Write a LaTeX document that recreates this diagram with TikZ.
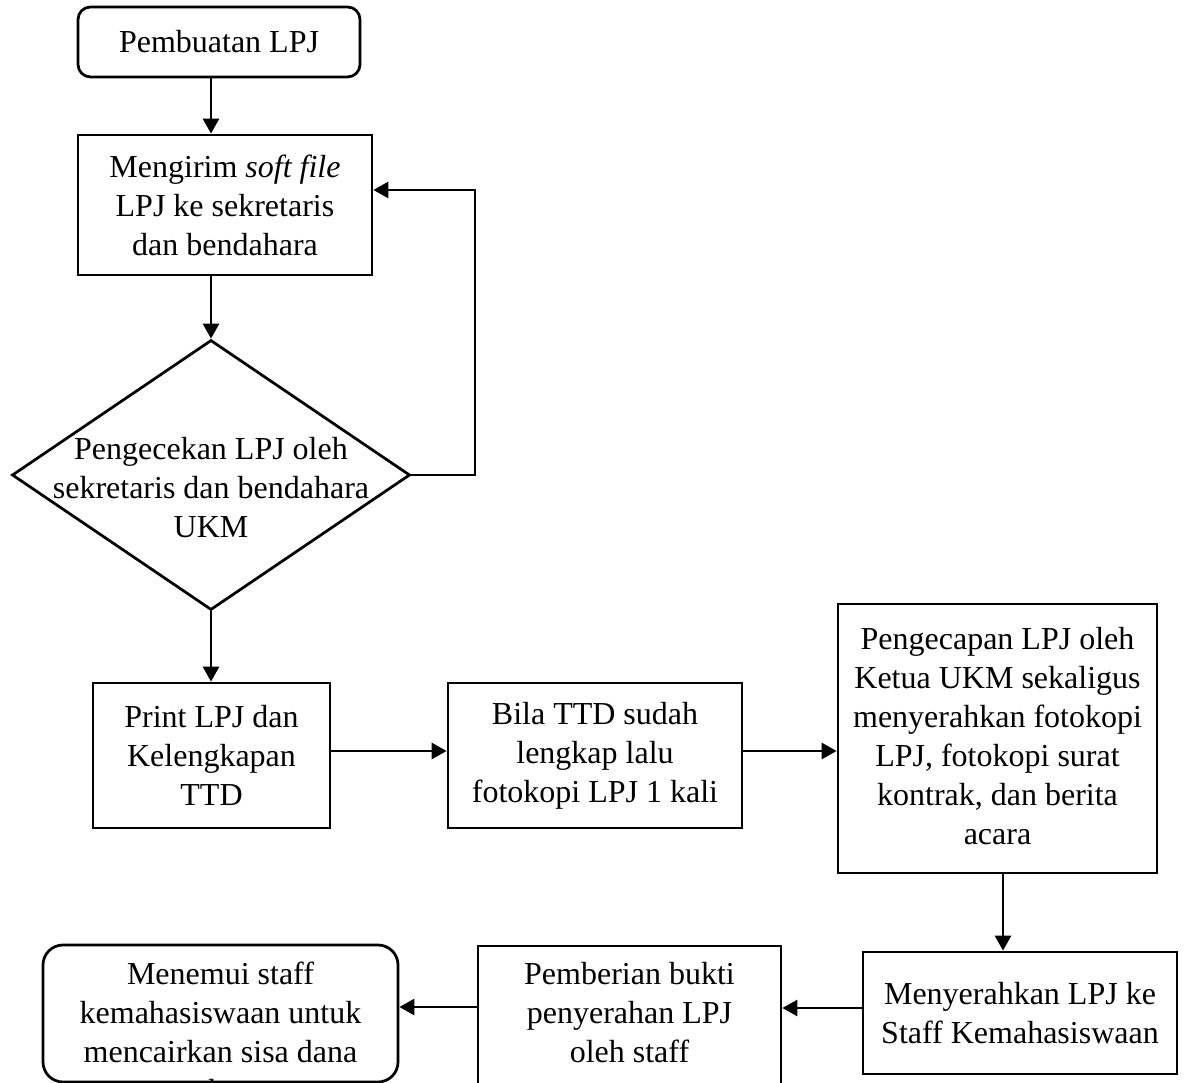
\documentclass[tikz,border=0pt]{standalone}
\usepackage{fontspec}
\setmainfont{Liberation Serif}
\usetikzlibrary{shapes.geometric,arrows.meta}
\begin{document}
\begin{tikzpicture}[x=0.4pt,y=-0.4pt,
  box/.style={draw,line width=1.1pt,inner sep=0pt,align=center,
    font=\fontsize{12.8}{15.6}\selectfont},
  rbox/.style={box,rounded corners=5pt},
  txt/.style={align=center,inner sep=0pt,font=\fontsize{12.8}{15.6}\selectfont},
  arr/.style={line width=1.1pt,-{Triangle[length=6pt,width=6.4pt]}}]
\useasboundingbox (0,0) rectangle (1184,1083);
\clip (0,0) rectangle (1184,1083);

% process steps
\node[rbox,minimum width=112.8pt,minimum height=28pt] (buat) at (219,42) {Pembuatan LPJ};
\node[box,minimum width=117.6pt,minimum height=56pt] (kirim) at (225,205)
  {Mengirim \textit{soft file}\\LPJ ke sekretaris\\dan bendahara};
\node[draw,line width=1.1pt,diamond,inner sep=0pt,minimum width=159.2pt,minimum height=108pt] (cek) at (211,475) {};
\node[txt] (cektxt) at (211,488) {Pengecekan LPJ oleh\\sekretaris dan bendahara\\UKM};
\node[box,minimum width=94.8pt,minimum height=58pt] (print) at (211.5,755.5)
  {Print LPJ dan\\Kelengkapan\\TTD};
\node[box,minimum width=117.6pt,minimum height=58pt] (bila) at (595,755.5)
  {Bila TTD sudah\\lengkap lalu\\fotokopi LPJ 1 kali};
\node[box,minimum width=127.6pt,minimum height=107.6pt] (cap) at (997.5,738.5) {};
\node[txt] (captxt) at (997.5,736)
  {Pengecapan LPJ oleh\\Ketua UKM sekaligus\\menyerahkan fotokopi\\LPJ, fotokopi surat\\kontrak, dan berita\\acara};
\node[box,minimum width=125.6pt,minimum height=48.8pt] (serah) at (1020,1013)
  {Menyerahkan LPJ ke\\Staff Kemahasiswaan};
\node[box,minimum width=121.2pt,minimum height=65.6pt] (bukti) at (629.5,1028) {};
\node[txt] (buktitxt) at (629.5,1013) {Pemberian bukti\\penyerahan LPJ\\oleh staff};
\node[box,rounded corners=8pt,minimum width=142pt,minimum height=54.8pt] (temui) at (220.5,1013.5) {};
\node[txt] (temuitxt) at (220.5,1032) {Menemui staff\\kemahasiswaan untuk\\mencairkan sisa dana\\ukm};

% routing points
\coordinate (fb1) at (475,475);
\coordinate (fb2) at (475,190);
\coordinate (down) at (1003,0);
\coordinate (row1) at (0,751);
\coordinate (row2a) at (0,1008);
\coordinate (row2b) at (0,1007);

% connectors
\draw[arr] (buat.south -| 211,0) -- (kirim.north -| 211,0);
\draw[arr] (kirim.south -| cek.north) -- (cek.north);
\draw[arr] (cek.east) -- (fb1) -- (fb2) -- (kirim.east |- fb2);
\draw[arr] (cek.south) -- (print.north -| cek.south);
\draw[arr] (print.east |- row1) -- (bila.west |- row1);
\draw[arr] (bila.east |- row1) -- (cap.west |- row1);
\draw[arr] (cap.south -| down) -- (serah.north -| down);
\draw[arr] (serah.west |- row2a) -- (bukti.east |- row2a);
\draw[arr] (bukti.west |- row2b) -- (temui.east |- row2b);
\end{tikzpicture}
\end{document}
